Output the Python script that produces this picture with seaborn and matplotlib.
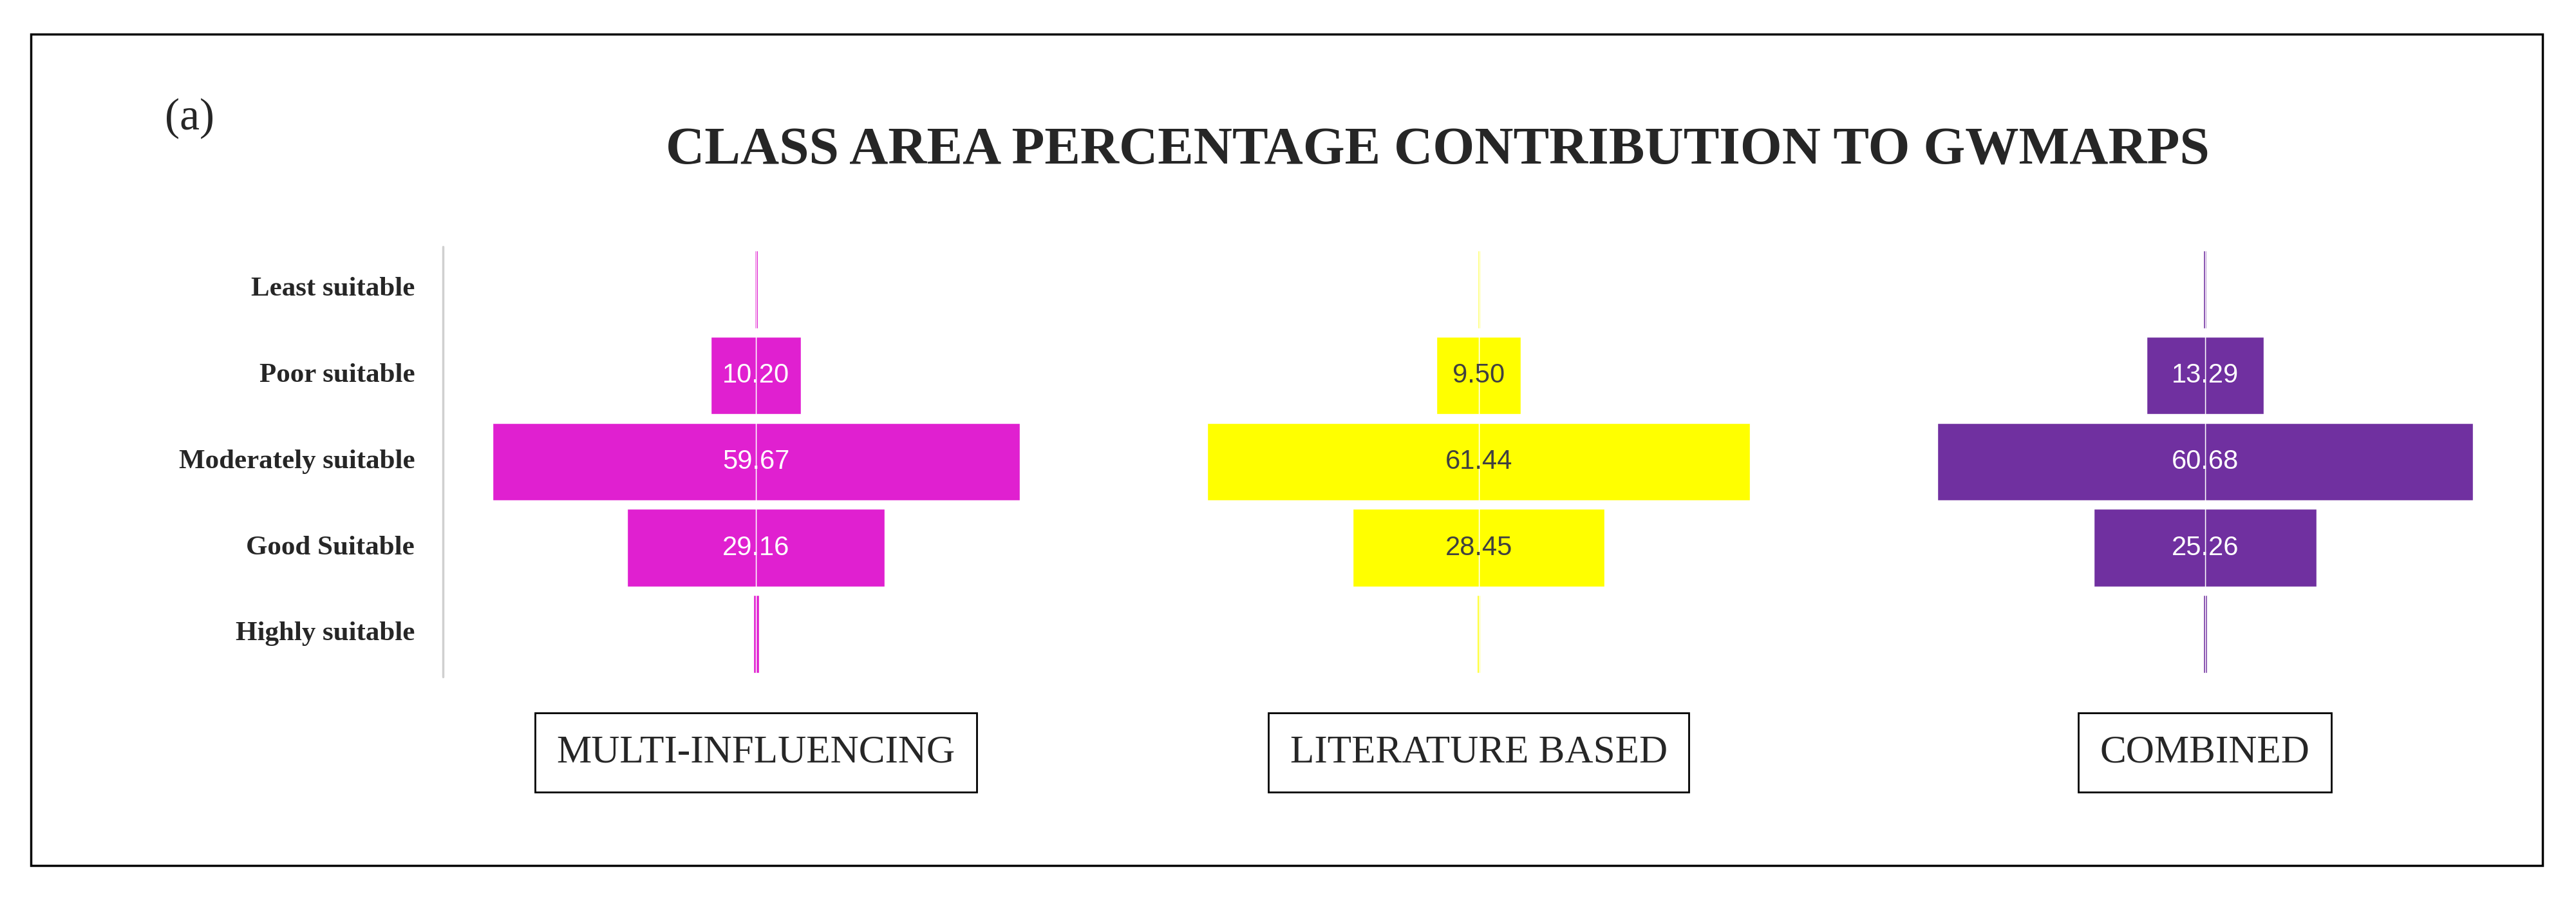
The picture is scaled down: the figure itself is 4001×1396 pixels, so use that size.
import numpy as np
import pandas as pd
import matplotlib
matplotlib.use("Agg")
import matplotlib.pyplot as plt
import seaborn as sns
from matplotlib.patches import Rectangle

sns.set_style("white")

classes = ["Least suitable", "Poor suitable", "Moderately suitable", "Good Suitable", "Highly suitable"]
multi = [0.35, 10.20, 59.67, 29.16, 0.62]
literature = [0.30, 9.50, 61.44, 28.45, 0.31]
combined = [0.38, 13.29, 60.68, 25.26, 0.39]

panels = [
    ("MULTI-INFLUENCING", multi, "#e020d0", "white"),
    ("LITERATURE BASED", literature, "#ffff00", "#404040"),
    ("COMBINED", combined, "#7030a0", "white"),
]
centers = [0.2935, 0.574, 0.856]

fig = plt.figure(figsize=(40.01, 13.96), dpi=100)
serif = ["Liberation Serif", "DejaVu Serif"]

# outer frame
fig.patches.append(Rectangle((0.012, 0.037), 0.975, 0.925, transform=fig.transFigure,
                             fill=False, edgecolor="black", linewidth=2.5))

fig.text(0.064, 0.868, "(a)", fontsize=50, family=serif, ha="left", va="center")
fig.text(0.558, 0.832, "CLASS AREA PERCENTAGE CONTRIBUTION TO GWMARPS",
         fontsize=60, family=serif, fontweight="bold", ha="center", va="center")

bottom, top = 0.247, 0.726
half_w = 0.12
for i, (name, vals, color, tcolor) in enumerate(panels):
    ax = fig.add_axes([centers[i] - half_w, bottom, 2 * half_w, top - bottom])
    df = pd.DataFrame({"cls": classes, "half": np.array(vals) / 2})
    sns.barplot(data=df, y="cls", x="half", color=color, orient="h", width=0.9,
                saturation=1, ax=ax)
    df_neg = df.assign(half=-df["half"])
    sns.barplot(data=df_neg, y="cls", x="half", color=color, orient="h", width=0.9,
                saturation=1, ax=ax)
    ax.set_xlim(-35, 35)
    ax.set_ylim(4.5, -0.5)
    for j, v in enumerate(vals):
        if v > 5:
            ax.text(0, j, f"{v:.2f}", ha="center", va="center", fontsize=30,
                    color=tcolor, family=["Liberation Sans", "DejaVu Sans"])
    ax.set_xlabel("")
    ax.set_ylabel("")
    ax.set_xticks([])
    ax.set_yticks([])
    sns.despine(ax=ax, left=True, bottom=True)
    fig.text(centers[i], 0.163, name, fontsize=44, family=serif, ha="center", va="center",
             bbox=dict(boxstyle="square,pad=0.55", facecolor="white", edgecolor="black", linewidth=2))

# category labels and grey axis line
for j, c in enumerate(classes):
    y = top - (j + 0.5) * (top - bottom) / 5
    fig.text(0.161, y, c, fontsize=31, family=serif, fontweight="bold", ha="right", va="center")
fig.add_artist(plt.Line2D([0.172, 0.172], [0.247, 0.726], color="#d0d0d0", linewidth=2.5))

fig.savefig("out.png", dpi=100)
